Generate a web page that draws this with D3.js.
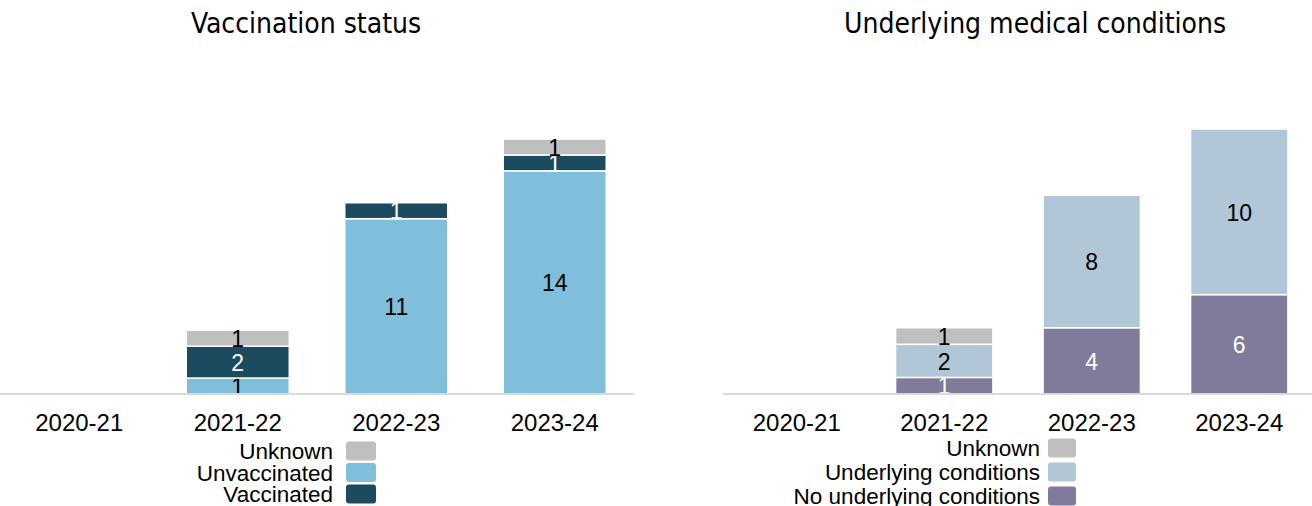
<!DOCTYPE html>
<html>
<head>
<meta charset="utf-8">
<script src="https://cdn.jsdelivr.net/npm/d3@7"></script>
<style>
  html, body { margin: 0; padding: 0; background: #fff; }
  svg text { font-family: "Liberation Sans", Arial, sans-serif; }
  .title { font-family: "Liberation Sans Narrow", "DejaVu Sans Condensed", sans-serif !important; }
</style>
</head>
<body>
<svg id="chart" width="1312" height="506"></svg>
<script>
// seasons shown on both panels
const seasons = ['2020-21', '2021-22', '2022-23', '2023-24'];

// vaccination status panel
const vaxKeys = ['Unvaccinated', 'Vaccinated', 'Unknown'];
const vaxUnvaccinated = [0, 1, 11, 14];
const vaxVaccinated = [0, 2, 1, 1];
const vaxUnknown = [0, 1, 0, 1];
const vaxLegend = ['Unknown', 'Unvaccinated', 'Vaccinated'];

// underlying conditions panel
const condKeys = ['No underlying conditions', 'Underlying conditions', 'Unknown'];
const condNone = [0, 1, 4, 6];
const condUnderlying = [0, 2, 8, 10];
const condUnknown = [0, 1, 0, 0];
const condLegend = ['Unknown', 'Underlying conditions', 'No underlying conditions'];

const COLORS = {
  'Unknown': '#bfbfbf',
  'Unvaccinated': '#7fbfdb',
  'Vaccinated': '#1c4a5e',
  'Underlying conditions': '#b1c6d7',
  'No underlying conditions': '#807b9b'
};
const LABEL_COLORS = {
  'Unknown': '#000',
  'Unvaccinated': '#000',
  'Vaccinated': '#fff',
  'Underlying conditions': '#000',
  'No underlying conditions': '#fff'
};

const svg = d3.select('#chart');

function drawPanel(cfg) {
  const rows = seasons.map((s, i) => {
    const r = { season: s };
    cfg.keys.forEach((k, j) => { r[k] = cfg.series[j][i]; });
    return r;
  });

  const x = d3.scaleBand()
    .domain(seasons)
    .range(cfg.xRange)
    .paddingInner(cfg.pad)
    .paddingOuter(cfg.pad / 2);

  const y = d3.scaleLinear()
    .domain([0, 16])
    .range([394, cfg.yTop]);

  const g = svg.append('g');

  g.append('text')
    .attr('class', 'title')
    .attr('x', cfg.titleX)
    .attr('y', 33)
    .attr('text-anchor', 'middle')
    .attr('font-size', '28px')
    .attr('fill', '#000')
    .text(cfg.title);

  const stacked = d3.stack().keys(cfg.keys)(rows);

  stacked.forEach(layer => {
    const key = layer.key;
    layer.forEach(d => {
      const v = d[1] - d[0];
      if (v <= 0) return;
      g.append('rect')
        .attr('x', x(d.data.season))
        .attr('y', y(d[1]))
        .attr('width', x.bandwidth())
        .attr('height', y(d[0]) - y(d[1]))
        .attr('fill', COLORS[key])
        .attr('stroke', '#fff')
        .attr('stroke-width', 1.5);

      g.append('text')
        .attr('x', x(d.data.season) + x.bandwidth() / 2)
        .attr('y', (y(d[0]) + y(d[1])) / 2)
        .attr('dy', '0.38em')
        .attr('text-anchor', 'middle')
        .attr('font-size', '23px')
        .attr('fill', LABEL_COLORS[key])
        .text(v);
    });
  });

  // baseline + tick labels
  const axis = g.append('g')
    .attr('transform', 'translate(0,394)')
    .call(d3.axisBottom(x).tickSize(0).tickPadding(20));
  axis.select('.domain')
    .attr('stroke', '#d9d9d9')
    .attr('stroke-width', 2)
    .attr('d', `M${cfg.lineRange[0]},0H${cfg.lineRange[1]}`);
  axis.selectAll('text')
    .attr('font-size', '24px')
    .attr('fill', '#000')
    .attr('font-family', '"Liberation Sans", Arial, sans-serif');

  // legend
  const lg = g.append('g');
  cfg.legend.forEach((name, i) => {
    const yy = cfg.legendY + i * cfg.legendStep;
    lg.append('rect')
      .attr('x', cfg.legendX + cfg.swatchGap)
      .attr('y', yy - 9.5)
      .attr('width', cfg.swatchW)
      .attr('height', 19)
      .attr('rx', 3)
      .attr('fill', COLORS[name]);
    lg.append('text')
      .attr('x', cfg.legendX)
      .attr('y', yy)
      .attr('dy', '0.36em')
      .attr('text-anchor', 'end')
      .attr('font-size', '22.5px')
      .attr('fill', '#000')
      .text(name);
  });
}

drawPanel({
  title: 'Vaccination status',
  titleX: 306,
  keys: vaxKeys,
  series: [vaxUnvaccinated, vaxVaccinated, vaxUnknown],
  legend: vaxLegend,
  xRange: [0, 634],
  lineRange: [0, 634],
  pad: 0.35,
  yTop: 139,
  legendX: 333,
  legendY: 451,
  legendStep: 21.5,
  swatchGap: 13,
  swatchW: 30
});

drawPanel({
  title: 'Underlying medical conditions',
  titleX: 1035,
  keys: condKeys,
  series: [condNone, condUnderlying, condUnknown],
  legend: condLegend,
  xRange: [723, 1313],
  lineRange: [723, 1312],
  pad: 0.34,
  yTop: 129,
  legendX: 1040,
  legendY: 448,
  legendStep: 24,
  swatchGap: 8,
  swatchW: 28
});
</script>
</body>
</html>
